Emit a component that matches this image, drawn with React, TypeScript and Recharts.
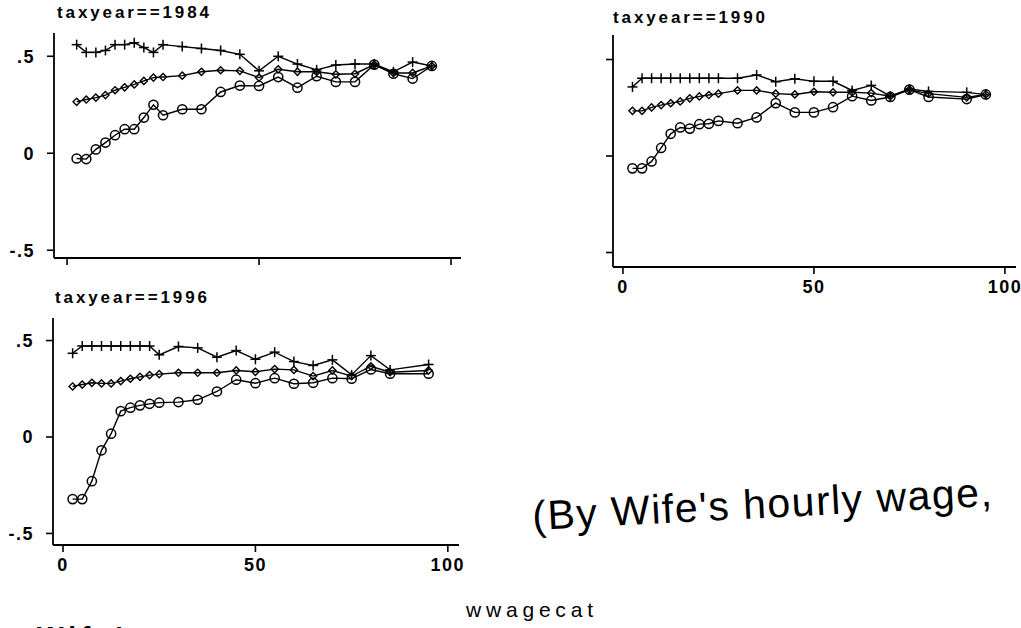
import { LineChart, Line, XAxis, YAxis } from 'recharts'

const wwagecat = [2.5, 5, 7.5, 10, 12.5, 15, 17.5, 20, 22.5, 25, 30, 35, 40, 45, 50, 55, 60, 65, 70, 75, 80, 85, 90, 95]

// three series per tax year: plus (top), diamond (middle), circle (bottom)
const plus1984 = [0.56, 0.52, 0.52, 0.53, 0.56, 0.56, 0.57, 0.545, 0.52, 0.56, 0.55, 0.54, 0.53, 0.51, 0.425, 0.5, 0.46, 0.43, 0.455, 0.46, 0.46, 0.42, 0.47, 0.45]
const diamond1984 = [0.265, 0.277, 0.287, 0.3, 0.325, 0.34, 0.355, 0.373, 0.39, 0.393, 0.4, 0.42, 0.428, 0.425, 0.39, 0.433, 0.42, 0.42, 0.407, 0.41, 0.457, 0.414, 0.414, 0.45]
const circle1984 = [-0.027, -0.03, 0.02, 0.055, 0.093, 0.124, 0.124, 0.184, 0.25, 0.196, 0.227, 0.227, 0.316, 0.349, 0.347, 0.393, 0.338, 0.397, 0.368, 0.368, 0.457, 0.41, 0.385, 0.45]

const plus1990 = [0.358, 0.403, 0.403, 0.403, 0.403, 0.403, 0.403, 0.403, 0.403, 0.403, 0.403, 0.42, 0.385, 0.4, 0.387, 0.387, 0.34, 0.366, 0.31, 0.347, 0.335, null, 0.33, 0.318]
const diamond1990 = [0.234, 0.234, 0.252, 0.264, 0.274, 0.283, 0.299, 0.309, 0.316, 0.323, 0.34, 0.34, 0.323, 0.319, 0.333, 0.33, 0.33, 0.326, 0.31, 0.344, 0.323, null, 0.304, 0.319]
const circle1990 = [-0.064, -0.064, -0.028, 0.042, 0.115, 0.148, 0.142, 0.165, 0.167, 0.182, 0.17, 0.2, 0.274, 0.226, 0.226, 0.253, 0.31, 0.288, 0.306, 0.344, 0.306, null, 0.295, 0.319]

const plus1996 = [0.434, 0.472, 0.472, 0.472, 0.472, 0.472, 0.472, 0.472, 0.472, 0.426, 0.469, 0.462, 0.414, 0.448, 0.403, 0.44, 0.391, 0.371, 0.4, 0.322, 0.422, 0.348, null, 0.376]
const diamond1996 = [0.262, 0.272, 0.281, 0.278, 0.278, 0.29, 0.302, 0.312, 0.321, 0.326, 0.333, 0.333, 0.333, 0.345, 0.338, 0.352, 0.348, 0.316, 0.345, 0.316, 0.367, 0.336, null, 0.345]
const circle1996 = [-0.322, -0.322, -0.229, -0.069, 0.017, 0.134, 0.152, 0.164, 0.172, 0.178, 0.181, 0.193, 0.236, 0.297, 0.279, 0.305, 0.276, 0.281, 0.305, 0.302, 0.35, 0.328, null, 0.328]

const xTicks = [0, 50, 100]
const yTicks = [-0.5, 0, 0.5]

const FONT = '"Liberation Sans", Arial, sans-serif'

function build(p: (number | null)[], d: (number | null)[], c: (number | null)[]) {
  return wwagecat.map((x, i) => ({ x, plus: p[i], diamond: d[i], circle: c[i] }))
}

const PlusDot = (props: any) => {
  const { cx, cy, value } = props
  if (value == null || cx == null || cy == null) return null
  const s = 5
  return (
    <g key={props.key}>
      <line x1={cx - s} x2={cx + s} y1={cy} y2={cy} stroke="#000" strokeWidth={1.5} />
      <line x1={cx} x2={cx} y1={cy - s} y2={cy + s} stroke="#000" strokeWidth={1.5} />
    </g>
  )
}

const DiamondDot = (props: any) => {
  const { cx, cy, value } = props
  if (value == null || cx == null || cy == null) return null
  const s = 3.6
  return (
    <polygon
      key={props.key}
      points={`${cx - s},${cy} ${cx},${cy - s} ${cx + s},${cy} ${cx},${cy + s}`}
      fill="none"
      stroke="#000"
      strokeWidth={1.4}
    />
  )
}

const CircleDot = (props: any) => {
  const { cx, cy, value } = props
  if (value == null || cx == null || cy == null) return null
  return <circle key={props.key} cx={cx} cy={cy} r={4.6} fill="none" stroke="#000" strokeWidth={1.5} />
}

const yFmt = (v: number) => (v === 0 ? '0' : v > 0 ? '.5' : '-.5')

interface PanelProps {
  data: any[]
  left: number
  top: number
  right: number
  bottom: number
  xDomain: [number, number]
  yDomain: [number, number]
  showX: boolean
  showY: boolean
}

function Panel({ data, left, top, right, bottom, xDomain, yDomain, showX, showY }: PanelProps) {
  const yw = 50
  const xh = 40
  const pad = 30
  const w = right - left + yw + pad
  const h = bottom - top + xh
  const tickStyle = { fill: '#000', fontSize: 18, fontFamily: FONT, fontWeight: 'bold', letterSpacing: 1.5 }
  return (
    <div style={{ position: 'absolute', left: left - yw, top }}>
      <LineChart width={w} height={h} data={data} margin={{ top: 0, right: pad, bottom: 0, left: 0 }}>
        <XAxis
          dataKey="x"
          type="number"
          domain={xDomain}
          ticks={xTicks}
          allowDataOverflow
          height={xh}
          tickSize={7}
          tickMargin={6}
          axisLine={{ stroke: '#000', strokeWidth: 1.8 }}
          tickLine={{ stroke: '#000', strokeWidth: 1.6 }}
          tick={tickStyle}
          tickFormatter={(v: number) => (showX ? String(v) : '')}
        />
        <YAxis
          type="number"
          domain={yDomain}
          ticks={yTicks}
          allowDataOverflow
          width={yw}
          tickSize={7}
          tickMargin={12}
          axisLine={{ stroke: '#000', strokeWidth: 1.8 }}
          tickLine={{ stroke: '#000', strokeWidth: 1.6 }}
          tick={tickStyle}
          tickFormatter={(v: number) => (showY ? yFmt(v) : '')}
        />
        <Line dataKey="plus" stroke="#000" strokeWidth={1.4} dot={PlusDot} connectNulls isAnimationActive={false} />
        <Line dataKey="diamond" stroke="#000" strokeWidth={1.4} dot={DiamondDot} connectNulls isAnimationActive={false} />
        <Line dataKey="circle" stroke="#000" strokeWidth={1.4} dot={CircleDot} connectNulls isAnimationActive={false} />
      </LineChart>
    </div>
  )
}

export default function App() {
  return (
    <div
      style={{
        position: 'absolute',
        left: 0,
        top: 0,
        width: 1021,
        height: 628,
        overflow: 'hidden',
        background: '#fff',
      }}
    >
      <Panel
        data={build(plus1984, diamond1984, circle1984)}
        left={54}
        top={33}
        right={461}
        bottom={258}
        xDomain={[-3.4, 102.6]}
        yDomain={[-0.54, 0.62]}
        showX={false}
        showY
      />
      <Panel
        data={build(plus1990, diamond1990, circle1990)}
        left={613}
        top={35}
        right={1016}
        bottom={267}
        xDomain={[-2.6, 102.9]}
        yDomain={[-0.575, 0.627]}
        showX
        showY={false}
      />
      <Panel
        data={build(plus1996, diamond1996, circle1996)}
        left={53}
        top={318}
        right={459}
        bottom={545}
        xDomain={[-2.6, 102.9]}
        yDomain={[-0.56, 0.617]}
        showX
        showY
      />
      <svg
        width={1021}
        height={628}
        style={{ position: 'absolute', left: 0, top: 0, pointerEvents: 'none' }}
      >
        <g fontFamily={FONT} fill="#000" fontSize={17} fontWeight="bold" letterSpacing={2.9}>
          <text x={57} y={18}>taxyear==1984</text>
          <text x={613} y={23}>taxyear==1990</text>
          <text x={55} y={303}>taxyear==1996</text>
        </g>
        <text x={466} y={617} fontFamily={FONT} fontSize={21} letterSpacing={4.8} fill="#000">
          wwagecat
        </text>
        <text x={37} y={646} fontFamily={FONT} fontSize={28} fontWeight="bold" letterSpacing={5} fill="#000">
          Wife's
        </text>
        <text
          x={533}
          y={530}
          fontFamily={FONT}
          fontSize={41}
          letterSpacing={1.5}
          fill="#000"
          transform="rotate(-3 533 530)"
        >
          (By Wife's hourly wage,
        </text>
      </svg>
    </div>
  )
}
